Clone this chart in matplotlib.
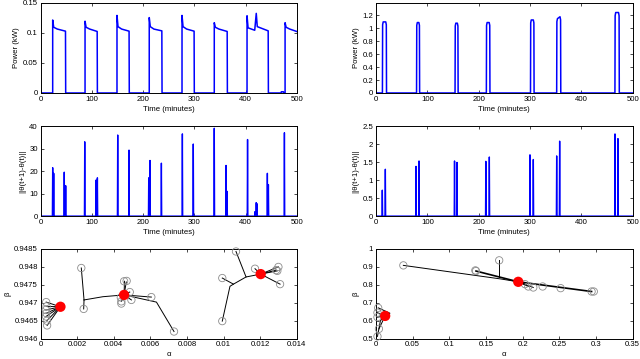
import matplotlib
matplotlib.use("Agg")
import matplotlib.pyplot as plt
from matplotlib.ticker import MultipleLocator, FixedLocator

plt.rcParams['font.family'] = ['Liberation Sans', 'DejaVu Sans']
FS = 5.6

# ---------------- data ----------------
# Top-left: power pulses (minutes, kW)
tl_on = [23.4, 86.6, 149.0, 212.0, 276.0, 339.0, 403.0, 477.3]
tl_off = [48.8, 110.7, 173.0, 237.0, 300.0, 364.6, 444.7, 500.0]
tl_peak = [0.121, 0.119, 0.1286, 0.125, 0.1286, 0.1165, 0.128, 0.1165]
tl_after = [0.109, 0.109, 0.110, 0.110, 0.110, 0.109, 0.108, 0.109]
tl_mid = [0.106, 0.106, 0.106, 0.106, 0.106, 0.106, 0.106, 0.106]
tl_end = [0.1025, 0.102, 0.1025, 0.103, 0.1025, 0.102, 0.103, 0.102]
# second spike inside pulse 7
tl_spike_t = [418.0, 421.0, 423.0]
tl_spike_p = [0.104, 0.132, 0.110]
# small bump
tl_bump_t = [469.5, 470.0, 474.0, 474.5]
tl_bump_p = [0.0, 0.002, 0.002, 0.0]

# Top-right: power pulses
tr_on = [12.5, 79.0, 154.0, 215.0, 301.0, 352.0, 465.5]
tr_off = [20.5, 85.0, 160.0, 222.0, 308.0, 360.0, 474.0]
tr_lvl_a = [1.10, 1.09, 1.08, 1.09, 1.13, 1.15, 1.245]
tr_lvl_b = [1.10, 1.09, 1.08, 1.09, 1.13, 1.18, 1.245]

# Middle-left: ||theta(t+1)-theta(t)|| spikes
ml_t = [23.4, 25.4, 46.0, 48.8, 86.0, 108.0, 110.7, 150.4, 172.5, 211.0, 213.5,
        235.7, 276.7, 298.0, 339.0, 362.0, 364.0, 418.6, 421.0, 422.5, 404.0,
        442.7, 444.7, 476.0]
ml_v = [21.5, 19.0, 19.5, 13.5, 33.0, 16.0, 17.0, 36.0, 29.3, 17.0, 24.7,
        23.5, 36.5, 32.0, 39.0, 22.5, 11.0, 2.0, 6.0, 5.5, 34.0,
        19.0, 14.0, 37.0]

# Middle-right spikes
mr_t = [12.3, 18.2, 78.0, 83.8, 153.0, 157.8, 214.0, 220.8, 300.0, 306.5,
        352.0, 357.8, 465.6, 471.4]
mr_v = [0.72, 1.30, 1.38, 1.53, 1.53, 1.49, 1.52, 1.64, 1.70, 1.57,
        1.67, 2.08, 2.28, 2.15]

# Bottom-left: estimates (gray circles), final estimates (red), paths
bl_cx = [0.00030, 0.00032, 0.00028, 0.00031, 0.00029, 0.00033, 0.00035,
         0.00222, 0.00235, 0.00456, 0.00470, 0.00487, 0.00438, 0.00441, 0.00441,
         0.00496, 0.00605, 0.00729,
         0.01068, 0.00993, 0.00993, 0.01172, 0.01300, 0.01294, 0.01287, 0.01309]
bl_cy = [0.94702, 0.94690, 0.94680, 0.94671, 0.94662, 0.94650, 0.94637,
         0.94797, 0.94683, 0.94760, 0.94761, 0.94730, 0.94715, 0.94704, 0.94698,
         0.94708, 0.94716, 0.94620,
         0.94843, 0.94769, 0.94649, 0.94795, 0.94800, 0.94789, 0.94791, 0.94752]
bl_rx = [0.00108, 0.00456, 0.01203]
bl_ry = [0.94689, 0.94722, 0.94780]
bl_paths = [
    [(0.00030, 0.94702), (0.00108, 0.94689)],
    [(0.00032, 0.94690), (0.00108, 0.94689)],
    [(0.00028, 0.94680), (0.00108, 0.94689)],
    [(0.00031, 0.94671), (0.00108, 0.94689)],
    [(0.00029, 0.94662), (0.00108, 0.94689)],
    [(0.00033, 0.94650), (0.00108, 0.94689)],
    [(0.00035, 0.94637), (0.00108, 0.94689)],
    [(0.00222, 0.94797), (0.00237, 0.94708)],
    [(0.00235, 0.94683), (0.00237, 0.94708)],
    [(0.00237, 0.94708), (0.00340, 0.94717), (0.00456, 0.94722)],
    [(0.00456, 0.94722), (0.00458, 0.94760)],
    [(0.00456, 0.94722), (0.00468, 0.94758)],
    [(0.00456, 0.94722), (0.00487, 0.94730)],
    [(0.00456, 0.94722), (0.00438, 0.94715)],
    [(0.00456, 0.94722), (0.00441, 0.94704)],
    [(0.00456, 0.94722), (0.00496, 0.94708)],
    [(0.00456, 0.94722), (0.00605, 0.94716)],
    [(0.00456, 0.94722), (0.00633, 0.94702), (0.00729, 0.94620)],
    [(0.01068, 0.94843), (0.01123, 0.94772), (0.01203, 0.94780)],
    [(0.00993, 0.94769), (0.01054, 0.94752)],
    [(0.00993, 0.94649), (0.01035, 0.94746), (0.01054, 0.94752), (0.01123, 0.94772)],
    [(0.01203, 0.94780), (0.01172, 0.94795)],
    [(0.01203, 0.94780), (0.01300, 0.94800)],
    [(0.01203, 0.94780), (0.01294, 0.94789)],
    [(0.01203, 0.94780), (0.01287, 0.94791)],
    [(0.01203, 0.94780), (0.01309, 0.94752)],
]

# Bottom-right
br_cx = [0.0373, 0.1355, 0.1364, 0.168, 0.2032, 0.2077, 0.2145, 0.2273, 0.2518,
         0.294, 0.297, 0.003, 0.002, 0.002, 0.004, 0.002]
br_cy = [0.9086, 0.8806, 0.877, 0.9366, 0.804, 0.791, 0.7854, 0.791, 0.7817,
         0.763, 0.763, 0.672, 0.645, 0.620, 0.555, 0.513]
br_rx = [0.0125, 0.194]
br_ry = [0.627, 0.817]
br_paths = [
    [(0.0373, 0.9086), (0.170, 0.833), (0.194, 0.817)],
    [(0.168, 0.9366), (0.168, 0.845)],
    [(0.194, 0.817), (0.2032, 0.804)],
    [(0.194, 0.817), (0.2077, 0.791)],
    [(0.194, 0.817), (0.2145, 0.7854)],
    [(0.003, 0.672), (0.019, 0.642), (0.0125, 0.627)],
    [(0.002, 0.645), (0.0125, 0.627)],
    [(0.002, 0.620), (0.0125, 0.627)],
    [(0.004, 0.555), (0.0125, 0.627)],
    [(0.002, 0.513), (0.006, 0.600), (0.0125, 0.627)],
]
br_thick_paths = [
    [(0.1364, 0.877), (0.194, 0.817)],
    [(0.194, 0.817), (0.294, 0.763)],
]

# ---------------- figure ----------------
fig = plt.figure(figsize=(6.4, 3.59), dpi=100)
W = 0.40
pos = {
    'tl': [0.0636, 0.741, W, 0.252], 'tr': [0.5875, 0.741, 0.401, 0.252],
    'ml': [0.0636, 0.398, W, 0.251], 'mr': [0.5875, 0.398, 0.401, 0.251],
    'bl': [0.0636, 0.0565, W, 0.250], 'br': [0.5875, 0.0565, 0.401, 0.250],
}
axs = {k: fig.add_axes(v) for k, v in pos.items()}

def style(ax):
    ax.tick_params(direction='in', top=True, right=True, length=2.5, width=0.5,
                   labelsize=FS, pad=2)
    for s in ax.spines.values():
        s.set_linewidth(0.7)

BLUE = '#0000ff'

# top-left
ax = axs['tl']
tt, pp = [0.0], [0.0]
for i in range(len(tl_on)):
    on, off = tl_on[i], tl_off[i]
    if i == 6:
        tt += [on, on, on + 2, tl_spike_t[0], tl_spike_t[1], tl_spike_t[2], off - 0.4, off]
        pp += [0, tl_peak[i], tl_after[i], tl_spike_p[0], tl_spike_p[1], tl_spike_p[2], tl_end[i], 0]
        tt += tl_bump_t
        pp += tl_bump_p
    elif off >= 500:
        tt += [on, on, on + 2, on + 9, off]
        pp += [0, tl_peak[i], tl_after[i], tl_mid[i], tl_end[i]]
    else:
        tt += [on, on, on + 2, on + 9, off - 0.4, off]
        pp += [0, tl_peak[i], tl_after[i], tl_mid[i], tl_end[i], 0]
ax.plot(tt, pp, color=BLUE, lw=1.1)
ax.set_xlim(0, 500); ax.set_ylim(0, 0.15)
ax.xaxis.set_major_locator(MultipleLocator(100))
ax.yaxis.set_major_locator(FixedLocator([0, 0.05, 0.1, 0.15]))
ax.set_yticklabels(['0', '0.05', '0.1', '0.15'])
ax.set_xlabel('Time (minutes)', fontsize=FS, labelpad=2)
ax.set_ylabel('Power (kW)', fontsize=FS, labelpad=2)

# top-right
ax = axs['tr']
tt, pp = [0.0], [0.0]
for i in range(len(tr_on)):
    on, off = tr_on[i], tr_off[i]
    tt += [on, on + 0.4, on + 1.5, off - 1.5, off - 0.4, off]
    pp += [0, tr_lvl_a[i] * 0.96, tr_lvl_a[i], tr_lvl_b[i], tr_lvl_b[i] * 0.96, 0]
tt.append(500.0); pp.append(0.0)
ax.plot(tt, pp, color=BLUE, lw=1.1)
ax.set_xlim(0, 500); ax.set_ylim(0, 1.4)
ax.xaxis.set_major_locator(MultipleLocator(100))
ax.yaxis.set_major_locator(FixedLocator([0, 0.2, 0.4, 0.6, 0.8, 1.0, 1.2]))
ax.set_yticklabels(['0', '0.2', '0.4', '0.6', '0.8', '1', '1.2'])
ax.set_xlabel('Time (minutes)', fontsize=FS, labelpad=2)
ax.set_ylabel('Power (kW)', fontsize=FS, labelpad=2)

def spikes(ax, ts, vs):
    order = sorted(range(len(ts)), key=lambda k: ts[k])
    xx, yy = [0.0], [0.0]
    for k in order:
        xx += [ts[k] - 0.6, ts[k], ts[k] + 0.6]
        yy += [0, vs[k], 0]
    xx.append(500.0); yy.append(0.0)
    ax.plot(xx, yy, color=BLUE, lw=1.0)

ax = axs['ml']
spikes(ax, ml_t, ml_v)
ax.set_xlim(0, 500); ax.set_ylim(0, 40)
ax.xaxis.set_major_locator(MultipleLocator(100))
ax.yaxis.set_major_locator(MultipleLocator(10))
ax.set_xlabel('Time (minutes)', fontsize=FS, labelpad=2)
ax.set_ylabel('||θ(t+1)-θ(t)||', fontsize=FS, labelpad=2)

ax = axs['mr']
spikes(ax, mr_t, mr_v)
ax.set_xlim(0, 500); ax.set_ylim(0, 2.5)
ax.xaxis.set_major_locator(MultipleLocator(100))
ax.yaxis.set_major_locator(FixedLocator([0, 0.5, 1, 1.5, 2, 2.5]))
ax.set_yticklabels(['0', '0.5', '1', '1.5', '2', '2.5'])
ax.set_xlabel('Time (minutes)', fontsize=FS, labelpad=2)
ax.set_ylabel('||θ(t+1)-θ(t)||', fontsize=FS, labelpad=2)

GRAY = '#8c8c8c'

ax = axs['bl']
for p in bl_paths:
    ax.plot([q[0] for q in p], [q[1] for q in p], color='black', lw=0.7, zorder=2)
ax.scatter(bl_cx, bl_cy, s=28, facecolors='none', edgecolors=GRAY, linewidths=0.6,
           zorder=3, clip_on=False)
ax.scatter(bl_rx, bl_ry, s=55, color='#ff0000', edgecolors='none', zorder=4, clip_on=False)
ax.set_xlim(0, 0.014); ax.set_ylim(0.946, 0.9485)
ax.xaxis.set_major_locator(FixedLocator([0, 0.002, 0.004, 0.006, 0.008, 0.01, 0.012, 0.014]))
ax.set_xticklabels(['0', '0.002', '0.004', '0.006', '0.008', '0.01', '0.012', '0.014'])
ax.yaxis.set_major_locator(FixedLocator([0.946, 0.9465, 0.947, 0.9475, 0.948, 0.9485]))
ax.set_yticklabels(['0.946', '0.9465', '0.947', '0.9475', '0.948', '0.9485'])
ax.set_xlabel('α', fontsize=FS, labelpad=2)
ax.set_ylabel('β', fontsize=FS, labelpad=2)

ax = axs['br']
for p in br_paths:
    ax.plot([q[0] for q in p], [q[1] for q in p], color='black', lw=0.7, zorder=2)
for p in br_thick_paths:
    ax.plot([q[0] for q in p], [q[1] for q in p], color='black', lw=1.2, zorder=2)
ax.scatter(br_cx, br_cy, s=28, facecolors='none', edgecolors=GRAY, linewidths=0.6,
           zorder=3, clip_on=False)
ax.scatter(br_rx, br_ry, s=55, color='#ff0000', edgecolors='none', zorder=4, clip_on=False)
ax.set_xlim(0, 0.35); ax.set_ylim(0.5, 1.0)
ax.xaxis.set_major_locator(FixedLocator([0, 0.05, 0.1, 0.15, 0.2, 0.25, 0.3, 0.35]))
ax.set_xticklabels(['0', '0.05', '0.1', '0.15', '0.2', '0.25', '0.3', '0.35'])
ax.yaxis.set_major_locator(FixedLocator([0.5, 0.6, 0.7, 0.8, 0.9, 1.0]))
ax.set_yticklabels(['0.5', '0.6', '0.7', '0.8', '0.9', '1'])
ax.set_xlabel('α', fontsize=FS, labelpad=2)
ax.set_ylabel('β', fontsize=FS, labelpad=2)

for ax in axs.values():
    style(ax)

fig.savefig('out.png', dpi=100)
